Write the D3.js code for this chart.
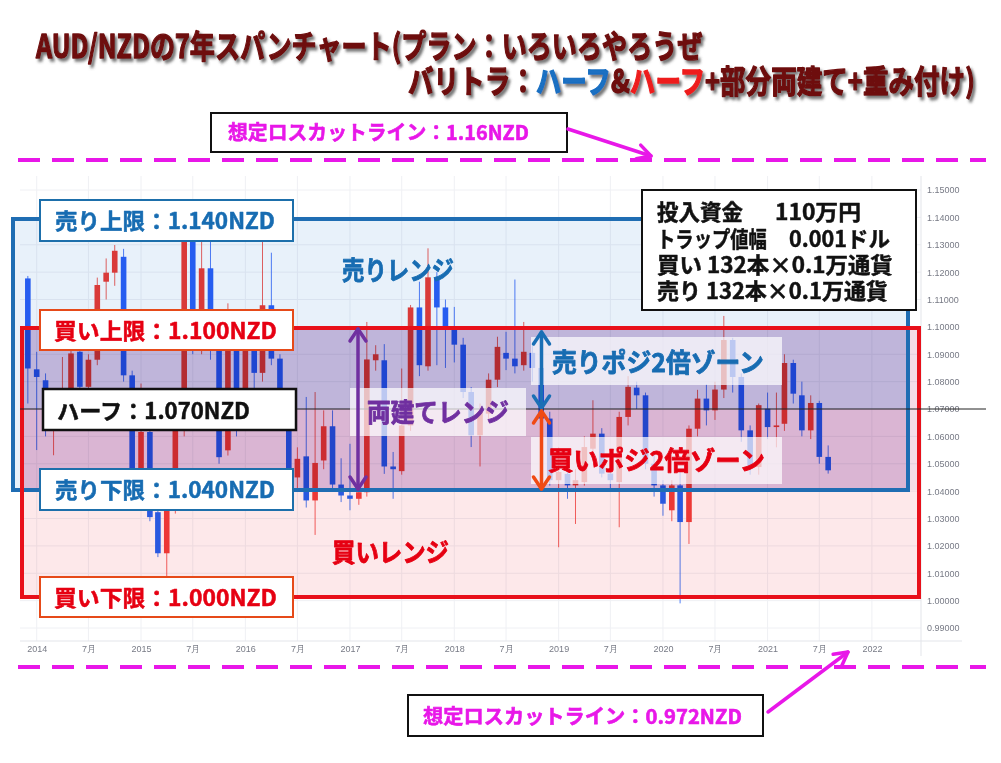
<!DOCTYPE html>
<html><head><meta charset="utf-8">
<script src="https://cdn.jsdelivr.net/npm/d3@7"></script>
<style>
html,body{margin:0;padding:0;background:#fff;}
svg{display:block;}
text{font-family:"Noto Sans CJK JP","Noto Sans",sans-serif;}
.ax text{font-family:"Liberation Sans",Arial,sans-serif;font-size:9px;fill:#787b86;}
</style></head><body>
<svg id="c" width="1001" height="763"></svg>
<script>
// ---------------- DATA ----------------
const months = ["2013-12",
"2014-01","2014-02","2014-03","2014-04","2014-05","2014-06","2014-07","2014-08","2014-09","2014-10","2014-11","2014-12",
"2015-01","2015-02","2015-03","2015-04","2015-05","2015-06","2015-07","2015-08","2015-09","2015-10","2015-11","2015-12",
"2016-01","2016-02","2016-03","2016-04","2016-05","2016-06","2016-07","2016-08","2016-09","2016-10","2016-11","2016-12",
"2017-01","2017-02","2017-03","2017-04","2017-05","2017-06","2017-07","2017-08","2017-09","2017-10","2017-11","2017-12",
"2018-01","2018-02","2018-03","2018-04","2018-05","2018-06","2018-07","2018-08","2018-09","2018-10","2018-11","2018-12",
"2019-01","2019-02","2019-03","2019-04","2019-05","2019-06","2019-07","2019-08","2019-09","2019-10","2019-11","2019-12",
"2020-01","2020-02","2020-03","2020-04","2020-05","2020-06","2020-07","2020-08","2020-09","2020-10","2020-11","2020-12",
"2021-01","2021-02","2021-03","2021-04","2021-05","2021-06","2021-07","2021-08"];
const opens = [1.1177,
1.0845,1.0805,1.0640,1.0700,1.0775,1.0909,1.0781,1.0880,1.1165,1.1198,1.1256,1.0823,
1.0476,1.0616,1.0323,1.0173,1.0329,1.0622,1.1354,1.0950,1.1214,1.0915,1.0549,1.0930,
1.0680,1.0915,1.0832,1.1079,1.0884,1.0690,1.0450,1.0527,1.0366,1.0512,1.0637,1.0424,
1.0384,1.0372,1.0396,1.0878,1.0878,1.0490,1.0473,1.0640,1.1071,1.0856,1.1181,1.1071,
1.1000,1.0935,1.0762,1.0604,1.0683,1.0807,1.0905,1.0884,1.0860,1.0905,1.0850,1.0665,
1.0440,1.0463,1.0421,1.0433,1.0555,1.0610,1.0464,1.0433,1.0671,1.0778,1.0750,1.0500,
1.0421,1.0330,1.0421,1.0287,1.0628,1.0738,1.0695,1.0771,1.0952,1.0817,1.0622,1.0488,
1.0701,1.0634,1.0646,1.0868,1.0750,1.0622,1.0722,1.0525];
const highs = [1.1186,
1.0909,1.0830,1.0730,1.0890,1.0940,1.0930,1.0900,1.1180,1.1250,1.1299,1.1285,1.0840,
1.0793,1.0640,1.0340,1.0400,1.0660,1.1400,1.1400,1.1311,1.1320,1.0940,1.1086,1.0990,
1.0980,1.0950,1.1311,1.1271,1.0900,1.0720,1.0560,1.0744,1.0762,1.0695,1.0695,1.0520,
1.0573,1.0420,1.1018,1.0933,1.0937,1.0543,1.0848,1.1080,1.1165,1.1287,1.1200,1.1100,
1.1073,1.0960,1.0780,1.0720,1.0830,1.0964,1.0982,1.1173,1.1018,1.0930,1.0870,1.0690,
1.0560,1.0500,1.0480,1.0600,1.0732,1.0630,1.0480,1.0690,1.0820,1.0800,1.0760,1.0540,
1.0440,1.0440,1.0470,1.0640,1.0770,1.0790,1.0800,1.1040,1.0960,1.0830,1.0640,1.0720,
1.0760,1.0760,1.0900,1.0880,1.0800,1.0750,1.0730,1.0567];
const lows = [1.0720,
1.0550,1.0600,1.0531,1.0680,1.0750,1.0760,1.0750,1.0860,1.1100,1.1150,1.0800,1.0460,
1.0440,1.0290,1.0159,1.0085,1.0318,1.0600,1.0900,1.0900,1.0880,1.0500,1.0530,1.0600,
1.0620,1.0740,1.0800,1.0860,1.0660,1.0400,1.0410,1.0340,1.0240,1.0480,1.0400,1.0360,
1.0330,1.0350,1.0380,1.0840,1.0463,1.0372,1.0460,1.0620,1.0820,1.0840,1.0860,1.0850,
1.0870,1.0740,1.0561,1.0490,1.0650,1.0780,1.0842,1.0830,1.0840,1.0800,1.0620,1.0420,
1.0195,1.0372,1.0280,1.0420,1.0520,1.0450,1.0400,1.0268,1.0640,1.0700,1.0480,1.0380,
1.0310,1.0290,0.9990,1.0207,1.0600,1.0640,1.0660,1.0740,1.0760,1.0580,1.0460,1.0460,
1.0590,1.0560,1.0620,1.0720,1.0600,1.0590,1.0500,1.0464];
const closes = [1.0848,
1.0817,1.0640,1.0700,1.0760,1.0903,1.0781,1.0880,1.1153,1.1198,1.1278,1.0823,1.0482,
1.0616,1.0305,1.0173,1.0329,1.0622,1.1354,1.0950,1.1214,1.0920,1.0524,1.0930,1.0680,
1.0915,1.0832,1.1079,1.0884,1.0690,1.0450,1.0518,1.0366,1.0503,1.0637,1.0424,1.0384,
1.0372,1.0396,1.0881,1.0900,1.0490,1.0480,1.0640,1.1071,1.0860,1.1181,1.1071,1.1000,
1.0935,1.0762,1.0604,1.0690,1.0807,1.0927,1.0884,1.0856,1.0909,1.0850,1.0665,1.0440,
1.0470,1.0421,1.0440,1.0561,1.0610,1.0464,1.0440,1.0671,1.0781,1.0750,1.0500,1.0421,
1.0354,1.0421,1.0287,1.0628,1.0738,1.0695,1.0771,1.0952,1.0817,1.0622,1.0488,1.0714,
1.0634,1.0640,1.0868,1.0756,1.0622,1.0722,1.0525,1.0476];
const yTicks = [0.99,1.00,1.01,1.02,1.03,1.04,1.05,1.06,1.07,1.08,1.09,1.10,1.11,1.12,1.13,1.14,1.15];
const levelLabels = ["売り上限：1.140NZD","買い上限：1.100NZD","ハーフ：1.070NZD","売り下限：1.040NZD","買い下限：1.000NZD"];
const infoLines = [["投入資金","110万円"],["トラップ値幅","0.001ドル"],["買い 132本×0.1万通貨"],["売り 132本×0.1万通貨"]];
const lossLabels = ["想定ロスカットライン：1.16NZD","想定ロスカットライン：0.972NZD"];

// ---------------- SETUP ----------------
const svg = d3.select("#c");
const defs = svg.append("defs");
const sh = defs.append("filter").attr("id","tshadow").attr("x","-5%").attr("y","-30%").attr("width","115%").attr("height","170%");
sh.append("feDropShadow").attr("dx",3).attr("dy",3).attr("stdDeviation",1.6).attr("flood-color","#555").attr("flood-opacity",0.8);
svg.append("rect").attr("width",1001).attr("height",763).attr("fill","#fff");

function fit(sel, x, y, w){
  const l = sel.node().getComputedTextLength();
  sel.attr("x",0).attr("y",0).attr("transform",`translate(${x},${y}) scale(${w/l},1)`);
  return sel;
}
function txt(str, x, y, w, size, color, sw){
  const t = svg.append("text").text(str).attr("font-size",size).attr("font-weight",700).attr("fill",color)
    .attr("stroke",color).attr("stroke-width",sw==null?0.5:sw).attr("stroke-linejoin","round");
  return fit(t, x, y, w);
}

const parse = d3.timeParse("%Y-%m");
const data = months.map((m,i)=>({date:parse(m),o:opens[i],h:highs[i],l:lows[i],c:closes[i]}));
const x = d3.scaleTime().domain([new Date(2014,0,1), new Date(2022,0,1)]).range([36.7, 871.9]);
const y = d3.scaleLinear().domain([0.99,1.15]).range([628,190]);
const plotL=20, plotR=921, plotT=176, plotB=641;

// grid
const xTickVals = d3.timeMonth.every(6).range(new Date(2014,0,1), new Date(2022,0,2));
const grid = svg.append("g");
grid.selectAll("line.h").data(yTicks).join("line").attr("class","h")
  .attr("x1",plotL).attr("x2",plotR).attr("y1",d=>y(d)).attr("y2",d=>y(d)).attr("stroke","#eff0f4");
grid.selectAll("line.v").data(xTickVals).join("line").attr("class","v")
  .attr("x1",d=>x(d)).attr("x2",d=>x(d)).attr("y1",plotT).attr("y2",plotB).attr("stroke","#eff0f4");
svg.append("line").attr("x1",plotR).attr("x2",plotR).attr("y1",plotT).attr("y2",656).attr("stroke","#e3e5ea");
svg.append("line").attr("x1",plotL).attr("x2",962).attr("y1",plotB).attr("y2",plotB).attr("stroke","#e3e5ea");

const yAx = svg.append("g").attr("class","ax").attr("transform",`translate(${plotR+1},0)`)
  .call(d3.axisRight(y).tickValues(yTicks).tickFormat(d3.format(".5f")).tickSize(0).tickPadding(5));
yAx.select(".domain").remove();
const xAx = svg.append("g").attr("class","ax").attr("transform",`translate(0,${plotB})`)
  .call(d3.axisBottom(x).tickValues(xTickVals).tickFormat(d=>d.getMonth()===0?String(d.getFullYear()):"7月").tickSize(0).tickPadding(5));
xAx.select(".domain").remove();

// candles
const upC = "#ef3d3a", dnC = "#2962f5";
const cg = svg.append("g");
cg.selectAll("line").data(data).join("line")
  .attr("x1",d=>x(d.date)).attr("x2",d=>x(d.date)).attr("y1",d=>y(d.h)).attr("y2",d=>y(d.l))
  .attr("stroke",d=>d.c>=d.o?upC:dnC).attr("stroke-width",1).attr("opacity",0.8);
cg.selectAll("rect").data(data).join("rect")
  .attr("x",d=>x(d.date)-2.8).attr("width",5.6)
  .attr("y",d=>y(Math.max(d.o,d.c))).attr("height",d=>Math.max(1.2,Math.abs(y(d.o)-y(d.c))))
  .attr("fill",d=>d.c>=d.o?upC:dnC);

// zones (annotation layout)
const Z = {sT:219, bT:328, half:409, sB:490, bB:597, sL:13, sR:908, bL:22, bR:919};
const zg = svg.append("g");
function zr(x0,y0,x1,y1,c){ zg.append("rect").attr("x",x0).attr("y",y0).attr("width",x1-x0).attr("height",y1-y0).attr("fill",c).style("mix-blend-mode","multiply"); }
zr(Z.sL,Z.sT,Z.sR,Z.bT,"#e8f1fa");
zr(Z.sL,Z.bT,Z.bL,Z.sB,"#e8f1fa");
zr(Z.bL,Z.bT,Z.sR,Z.half,"#bfb5da");
zr(Z.bL,Z.half,Z.sR,Z.sB,"#dab5d3");
zr(Z.bL,Z.sB,Z.bR,Z.bB,"#fde8ea");
zr(Z.sR,Z.bT,Z.bR,Z.sB,"#f4dde8");

svg.append("rect").attr("x",Z.sL).attr("y",Z.sT).attr("width",Z.sR-Z.sL).attr("height",Z.sB-Z.sT)
  .attr("fill","none").attr("stroke","#1f6db3").attr("stroke-width",4);
svg.append("rect").attr("x",Z.bL).attr("y",Z.bT).attr("width",Z.bR-Z.bL).attr("height",Z.bB-Z.bT)
  .attr("fill","none").attr("stroke","#e8101a").attr("stroke-width",4);

// half line
svg.append("line").attr("x1",20).attr("x2",986).attr("y1",Z.half).attr("y2",Z.half).attr("stroke","#222").attr("stroke-width",1);

// translucent label boxes
function wbox(x0,y0,x1,y1,op){ svg.append("rect").attr("x",x0).attr("y",y0).attr("width",x1-x0).attr("height",y1-y0).attr("fill","#fff").attr("opacity",op); }
wbox(350,388,526,436,0.7);
wbox(531,337,782,385,0.7);
wbox(531,437,782,484,0.7);

const BLUE="#176cb2", RED="#e60012", PURPLE="#7030a0", MAG="#e817e8";
txt("売りレンジ",342,280,112,26,BLUE,0.8);
txt("両建てレンジ",367,422,142,26,PURPLE,0.8);
txt("売りポジ2倍ゾーン",552,372,212,26,BLUE,0.8);
txt("買いポジ2倍ゾーン",548,470,217,26,RED,0.8);
txt("買いレンジ",332,562,117,26,RED,0.8);

// double arrows
function dArrow(xx,y1,y2,color){
  const g = svg.append("g").attr("stroke",color).attr("stroke-width",3.5).attr("fill","none").attr("stroke-linecap","round").attr("stroke-linejoin","round");
  g.append("line").attr("x1",xx).attr("x2",xx).attr("y1",y1+1).attr("y2",y2-1);
  g.append("polyline").attr("points",`${xx-8},${y1+13} ${xx},${y1+1} ${xx+8},${y1+13}`);
  g.append("polyline").attr("points",`${xx-8},${y2-13} ${xx},${y2-1} ${xx+8},${y2-13}`);
}
dArrow(358,Z.bT,Z.sB,PURPLE);
dArrow(541.5,331,Z.half,"#1a6fb5");
dArrow(541.5,Z.half+1,Z.sB,"#f04a14");

// level label boxes
function lbox(x0,y0,x1,y1,stroke,sw){ svg.append("rect").attr("x",x0).attr("y",y0).attr("width",x1-x0).attr("height",y1-y0).attr("fill","#fff").attr("stroke",stroke).attr("stroke-width",sw); }
const BBOX="#1d6fab", RBOX="#e64a19";
lbox(40,200,293,241,BBOX,2);   txt(levelLabels[0],55,229,220,22,BLUE);
lbox(40,310,293,350,RBOX,2);   txt(levelLabels[1],54,339,223,22,RED);
lbox(43,389,296,430,"#111",2.5); txt(levelLabels[2],57,419,193,22,"#111");
lbox(40,469,293,510,BBOX,2);   txt(levelLabels[3],55,498,220,22,BLUE);
lbox(40,577,293,617,RBOX,2);   txt(levelLabels[4],54,606,223,22,RED);

// info box
lbox(642,190,916,310,"#111",2);
txt(infoLines[0][0],657,220,86,22,"#111"); txt(infoLines[0][1],775,220,86,22,"#111");
txt(infoLines[1][0],657,246.5,110,22,"#111"); txt(infoLines[1][1],789,246.5,101,22,"#111");
txt(infoLines[2][0],657,273,236,22,"#111");
txt(infoLines[3][0],657,298.5,231,22,"#111");

// loss-cut lines
[160,667].forEach(yy=>{
  svg.append("line").attr("x1",18).attr("x2",986).attr("y1",yy).attr("y2",yy)
    .attr("stroke",MAG).attr("stroke-width",4).attr("stroke-dasharray","22,12");
});
lbox(211,113,567,152,"#111",2);
txt(lossLabels[0],228,140,301,20,MAG,0.6);
lbox(408,695,763,736,"#111",2);
txt(lossLabels[1],423,724,319,20,MAG,0.6);

function arrow(x1,y1,x2,y2,color){
  const a = Math.atan2(y2-y1,x2-x1), L=15, s=0.5;
  const g = svg.append("g").attr("stroke",color).attr("stroke-width",3.5).attr("fill","none").attr("stroke-linecap","round").attr("stroke-linejoin","round");
  g.append("line").attr("x1",x1).attr("y1",y1).attr("x2",x2).attr("y2",y2);
  g.append("polyline").attr("points",`${x2-L*Math.cos(a-s)},${y2-L*Math.sin(a-s)} ${x2},${y2} ${x2-L*Math.cos(a+s)},${y2-L*Math.sin(a+s)}`);
}
arrow(568,129,651,156,MAG);
arrow(768,712,848,652,MAG);

// title
const TC = "#6e0a0a";
const t1 = svg.append("text").attr("font-size",32).attr("font-weight",700).attr("fill",TC).attr("stroke",TC).attr("stroke-width",1.3).attr("stroke-linejoin","round").attr("filter","url(#tshadow)")
  .text("AUD/NZDの7年スパンチャート(プラン：いろいろやろうぜ");
fit(t1,36,58,667);
const t2 = svg.append("text").attr("font-size",32).attr("font-weight",700).attr("fill",TC).attr("stroke",TC).attr("stroke-width",1.3).attr("stroke-linejoin","round").attr("filter","url(#tshadow)");
t2.append("tspan").text("バリトラ：");
t2.append("tspan").attr("fill","#1a6fc2").attr("stroke","#1a6fc2").text("ハーフ");
t2.append("tspan").text("&");
t2.append("tspan").attr("fill","#ee1c1c").attr("stroke","#ee1c1c").text("ハーフ");
t2.append("tspan").text("+部分両建て+重み付け)");
fit(t2,408,93,567);
</script>
</body></html>
